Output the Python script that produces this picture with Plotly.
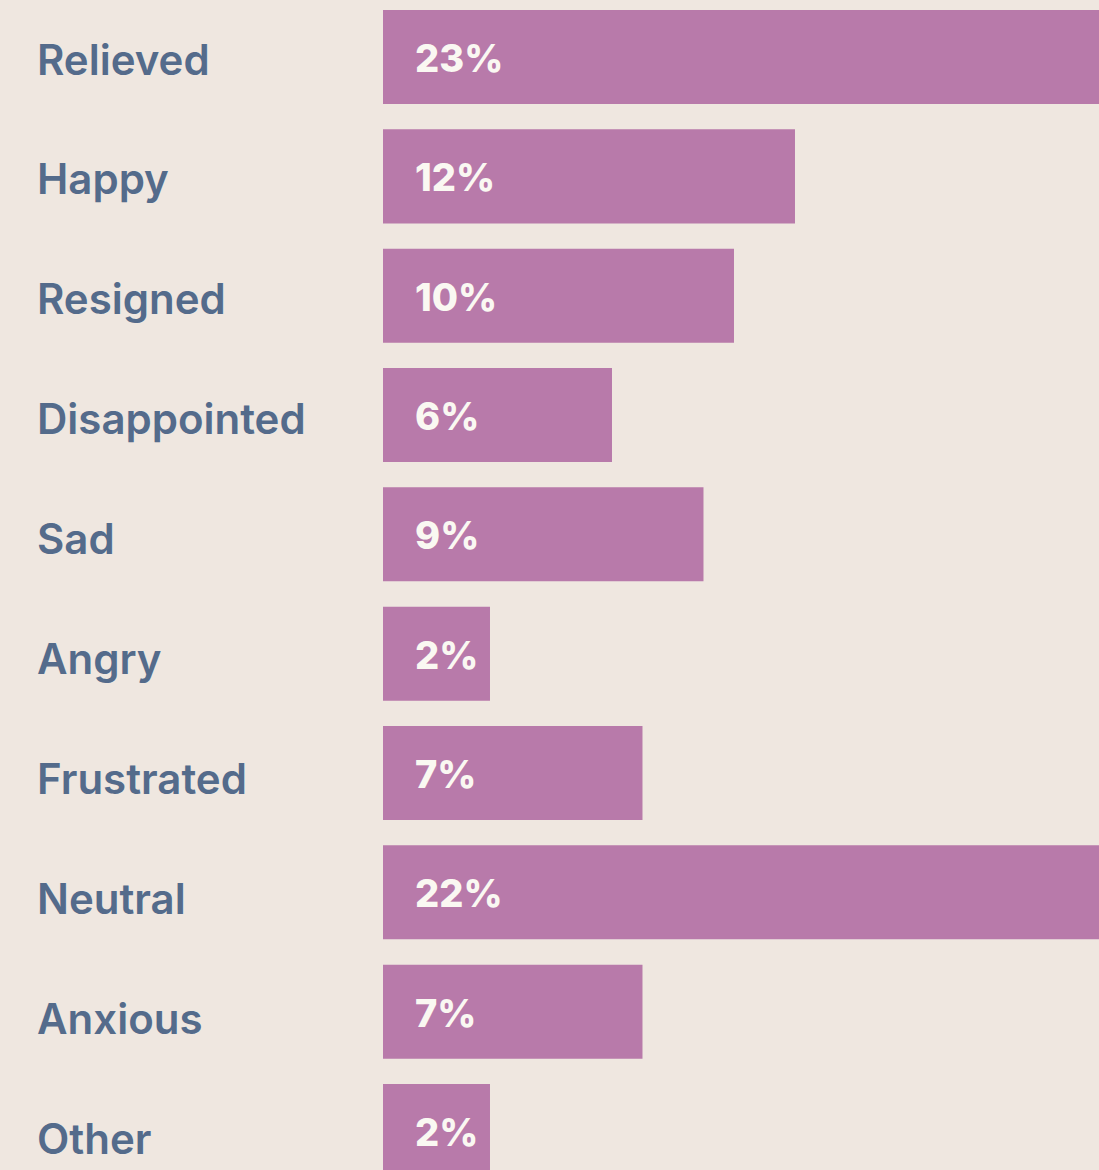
import plotly.graph_objects as go

categories = ["Relieved", "Happy", "Resigned", "Disappointed", "Sad",
              "Angry", "Frustrated", "Neutral", "Anxious", "Other"]
values = [23, 12, 10, 6, 9, 2, 7, 22, 7, 2]
value_labels = ["23%", "12%", "10%", "6%", "9%", "2%", "7%", "22%", "7%", "2%"]

BASE = -1.508
BG = "#efe7e0"
BAR = "#b87aaa"
LABEL = "#546b8b"

fig = go.Figure()
fig.add_trace(go.Bar(
    y=categories, x=[v - BASE for v in values], base=BASE,
    orientation="h", marker=dict(color=BAR, line=dict(width=0)),
    hoverinfo="skip", width=0.788,
))

for i, (cat, lab) in enumerate(zip(categories, value_labels)):
    fig.add_annotation(x=BASE, y=cat, xref="x", yref="y", text=lab,
                       xanchor="left", yanchor="middle", xshift=30, yshift=-1, showarrow=False,
                       font=dict(family="Inter", size=38, color="#faf8f2", weight=800))
    fig.add_annotation(x=-0.4860, y=cat, xref="paper", yref="y", text=cat,
                       xanchor="left", yanchor="middle", showarrow=False,
                       yshift=-(2 + 0.6 * i),
                       font=dict(family="Inter", size=42, color=LABEL, weight=600))

fig.update_layout(
    width=1099, height=1170,
    margin=dict(l=383, r=0, t=0, b=0),
    paper_bgcolor=BG, plot_bgcolor=BG,
    showlegend=False,
    xaxis=dict(range=[BASE, BASE + 716 / 30.5], visible=False, fixedrange=True),
    yaxis=dict(range=[9.327, -0.478], visible=False, fixedrange=True,
               categoryorder="array", categoryarray=categories),
)
fig.write_html("out.html", config={"displayModeBar": False},
               post_script="document.body.style.margin='0';document.body.style.background='" + BG + "';")
